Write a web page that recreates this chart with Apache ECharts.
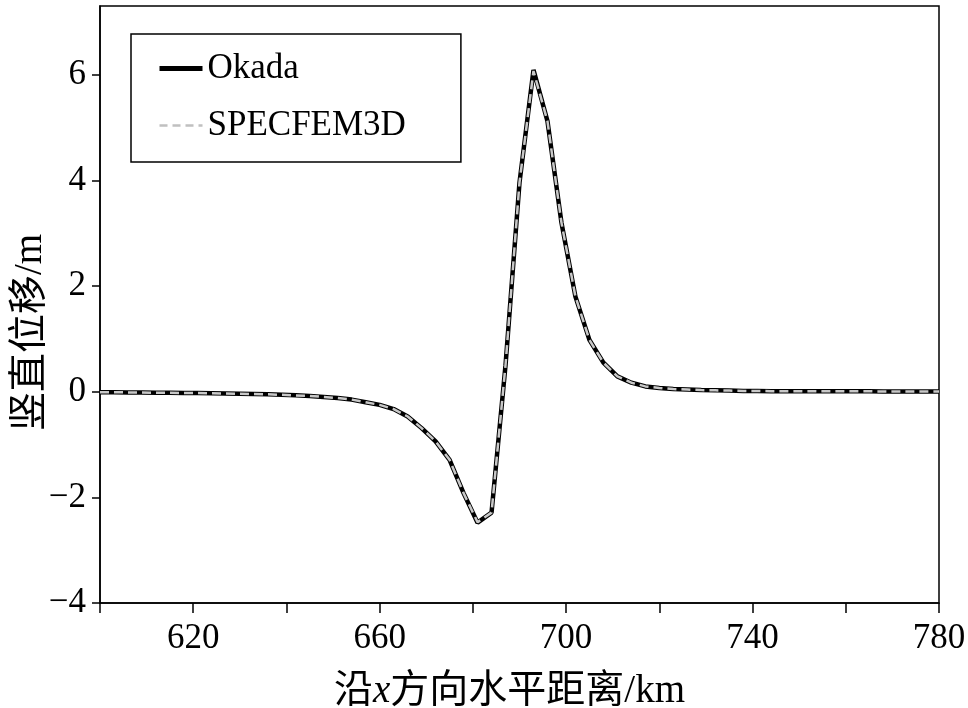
<!DOCTYPE html>
<html lang="zh">
<head>
    <meta charset="UTF-8">
    <title>竖直位移</title>
    <script src="https://cdn.jsdelivr.net/npm/echarts@6/dist/echarts.min.js"></script>
    <style>
        html, body { margin: 0; padding: 0; background: #fff; }
        #chart { width: 968px; height: 708px; }
    </style>
</head>
<body>
    <div id="chart"></div>
<script>
    // x 方向水平距离 (km)，每 3 km 一个点
    var xKm = [600, 603, 606, 609, 612, 615, 618, 621, 624, 627,
        630, 633, 636, 639, 642, 645, 648, 651, 654, 657,
        660, 663, 666, 669, 672, 675, 678, 681, 684, 687,
        690, 693, 696, 699, 702, 705, 708, 711, 714, 717,
        720, 723, 726, 729, 732, 735, 738, 741, 744, 747,
        750, 753, 756, 759, 762, 765, 768, 771, 774, 777, 780];
    // 竖直位移 (m)
    var okada = [-0.01, -0.01, -0.015, -0.015, -0.02, -0.02, -0.025, -0.025, -0.03, -0.035,
        -0.04, -0.045, -0.05, -0.06, -0.07, -0.08, -0.1, -0.12, -0.15, -0.2,
        -0.25, -0.33, -0.47, -0.69, -0.94, -1.29, -1.92, -2.48, -2.29, 0.5,
        3.96, 6.09, 5.12, 3.2, 1.8, 0.98, 0.55, 0.29, 0.17, 0.1,
        0.07, 0.05, 0.04, 0.03, 0.025, 0.02, 0.015, 0.015, 0.01, 0.01,
        0.01, 0.01, 0.008, 0.008, 0.006, 0.006, 0.005, 0.005, 0.005, 0.005, 0.005];
    var specfem = [-0.01, -0.01, -0.015, -0.015, -0.02, -0.02, -0.025, -0.025, -0.03, -0.035,
        -0.04, -0.045, -0.05, -0.06, -0.07, -0.08, -0.1, -0.12, -0.15, -0.2,
        -0.25, -0.33, -0.47, -0.69, -0.94, -1.29, -1.92, -2.47, -2.29, 0.5,
        3.96, 6.07, 5.12, 3.2, 1.8, 0.98, 0.55, 0.29, 0.17, 0.1,
        0.07, 0.05, 0.04, 0.03, 0.025, 0.02, 0.015, 0.015, 0.01, 0.01,
        0.01, 0.01, 0.008, 0.008, 0.006, 0.006, 0.005, 0.005, 0.005, 0.005, 0.005];
    var xLabels = [620, 660, 700, 740, 780];
    var yLabels = [-4, -2, 0, 2, 4, 6];

    var serif = '"Liberation Serif", "Noto Sans CJK SC", serif';
    var myChart = echarts.init(document.getElementById('chart'));

    function pairs(ys) {
        var out = [];
        for (var i = 0; i < xKm.length; i++) out.push([xKm[i], ys[i]]);
        return out;
    }

    var okadaLine = { color: '#000', width: 4.5 };
    var specLine = { color: '#c8c8c8', width: 2.5, type: [9, 5] };

    var option = {
        animation: false,
        backgroundColor: '#fff',
        textStyle: { fontFamily: serif, color: '#000' },
        grid: {
            left: 100, right: 29, top: 6, bottom: 105,
            outerBoundsMode: 'none',
            containLabel: false,
            show: true, borderColor: '#000', borderWidth: 1.5
        },
        legend: {
            orient: 'vertical',
            left: 131, top: 34,
            padding: [17, 55, 19, 26],
            borderColor: '#000', borderWidth: 1.5,
            itemWidth: 43, itemHeight: 14, itemGap: 22,
            itemStyle: { opacity: 0 },
            textStyle: { fontFamily: serif, fontSize: 35, color: '#000' },
            data: [
                { name: 'Okada', lineStyle: { color: '#000', width: 5 } },
                { name: 'SPECFEM3D', lineStyle: { color: '#c0c0c0', width: 2.5, type: [8, 5] } }
            ]
        },
        xAxis: {
            type: 'value', min: 600, max: 780, interval: 20,
            name: '沿{i|x}方向水平距离/km',
            nameLocation: 'middle', nameGap: 69,
            nameMoveOverlap: false,
            nameTextStyle: {
                fontFamily: serif, fontSize: 39, color: '#000', padding: [0, 20, 0, 0],
                rich: { i: { fontFamily: serif, fontSize: 39, fontStyle: 'italic' } }
            },
            axisLine: { onZero: false, lineStyle: { color: '#000', width: 1.5 } },
            axisTick: { length: 10, lineStyle: { color: '#000', width: 1.5 } },
            axisLabel: {
                fontFamily: serif, fontSize: 35, color: '#000', margin: 18,
                formatter: function (v) { return xLabels.indexOf(v) >= 0 ? String(v) : ''; }
            },
            splitLine: { show: false }
        },
        yAxis: {
            type: 'value', min: -4, max: 7.3, interval: 2,
            name: '竖直位移/m',
            nameLocation: 'middle', nameGap: 50,
            nameMoveOverlap: false,
            nameTextStyle: { fontFamily: serif, fontSize: 39, color: '#000', padding: [0, 56, 0, 0] },
            axisLine: { onZero: false, lineStyle: { color: '#000', width: 1.5 } },
            axisTick: { length: 8, lineStyle: { color: '#000', width: 1.5 } },
            axisLabel: {
                fontFamily: serif, fontSize: 35, color: '#000', margin: 14,
                showMaxLabel: false,
                formatter: function (v) {
                    return yLabels.indexOf(v) >= 0 ? String(v).replace('-', '\u2212') : '';
                }
            },
            splitLine: { show: false }
        },
        series: [{
            name: 'Okada',
            type: 'line',
            showSymbol: false,
            symbol: 'none',
            data: pairs(okada),
            lineStyle: okadaLine,
            itemStyle: { color: '#000' },
            z: 2
        }, {
            name: 'SPECFEM3D',
            type: 'line',
            showSymbol: false,
            symbol: 'none',
            data: pairs(specfem),
            lineStyle: specLine,
            itemStyle: { color: '#c8c8c8' },
            z: 3
        }]
    };
    myChart.setOption(option);
</script>
</body>
</html>
